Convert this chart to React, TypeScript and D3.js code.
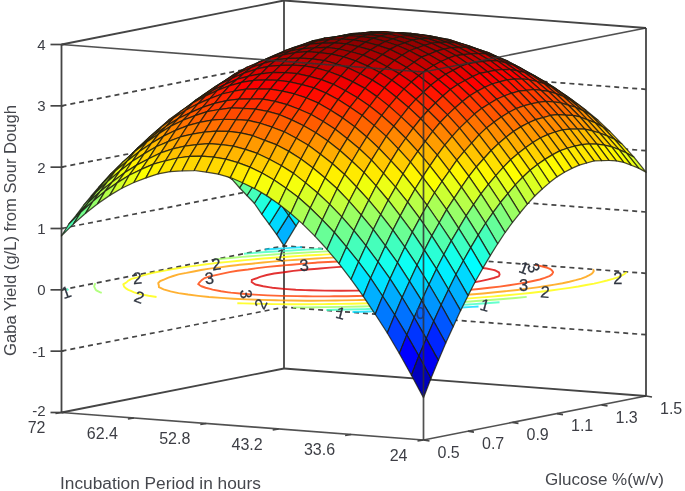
import React from 'react';
import * as d3 from 'd3';

// Rows go 24 h -> 72 h, columns go glucose 0.5 -> 1.5.
const surfaceRows: number[][] = [
  [-1.31,-1.02,-.75,-.49,-.25,-.01,.21,.42,.61,.79,.96,1.12,1.26,1.39,1.51,1.62,1.71,1.79,1.86,1.91,1.95,1.98,1.99,2.00,1.98,1.96,1.93,1.88,1.81,1.74,1.65],
  [-.96,-.67,-.41,-.15,.09,.32,.54,.74,.93,1.11,1.28,1.43,1.57,1.69,1.81,1.91,2.00,2.07,2.13,2.18,2.22,2.24,2.25,2.25,2.24,2.21,2.17,2.12,2.05,1.97,1.88],
  [-.62,-.34,-.08,.17,.41,.64,.85,1.05,1.23,1.41,1.57,1.72,1.85,1.97,2.08,2.18,2.26,2.33,2.39,2.44,2.47,2.49,2.50,2.49,2.47,2.44,2.39,2.33,2.26,2.18,2.08],
  [-.30,-.03,.23,.47,.71,.93,1.14,1.33,1.52,1.68,1.84,1.99,2.12,2.23,2.34,2.43,2.51,2.58,2.63,2.67,2.70,2.71,2.72,2.71,2.68,2.65,2.60,2.53,2.46,2.37,2.27],
  [-.01,.26,.52,.76,.99,1.21,1.41,1.60,1.78,1.94,2.09,2.24,2.36,2.47,2.58,2.67,2.74,2.80,2.85,2.89,2.91,2.92,2.92,2.91,2.88,2.84,2.78,2.72,2.64,2.55,2.44],
  [.27,.54,.78,1.02,1.25,1.46,1.66,1.85,2.02,2.18,2.33,2.47,2.59,2.70,2.79,2.88,2.95,3.00,3.05,3.08,3.10,3.11,3.10,3.09,3.05,3.01,2.95,2.88,2.79,2.70,2.59],
  [.53,.79,1.03,1.27,1.49,1.70,1.89,2.08,2.25,2.40,2.54,2.68,2.80,2.90,2.99,3.07,3.14,3.19,3.23,3.26,3.27,3.28,3.27,3.25,3.21,3.16,3.10,3.02,2.93,2.83,2.72],
  [.77,1.02,1.26,1.49,1.71,1.92,2.10,2.28,2.45,2.60,2.74,2.87,2.98,3.08,3.17,3.25,3.31,3.35,3.39,3.42,3.42,3.42,3.41,3.39,3.34,3.29,3.22,3.14,3.05,2.95,2.83],
  [.99,1.24,1.47,1.70,1.91,2.12,2.30,2.47,2.64,2.78,2.91,3.04,3.15,3.24,3.33,3.40,3.46,3.50,3.54,3.56,3.56,3.55,3.54,3.51,3.46,3.40,3.33,3.24,3.15,3.04,2.92],
  [1.19,1.43,1.66,1.89,2.10,2.29,2.47,2.64,2.80,2.94,3.07,3.19,3.30,3.39,3.47,3.54,3.59,3.63,3.66,3.68,3.67,3.66,3.64,3.61,3.55,3.49,3.42,3.33,3.23,3.12,2.99],
  [1.37,1.61,1.83,2.05,2.26,2.45,2.62,2.79,2.95,3.08,3.21,3.33,3.43,3.51,3.59,3.65,3.71,3.73,3.76,3.77,3.77,3.75,3.73,3.69,3.63,3.57,3.49,3.39,3.29,3.17,3.05],
  [1.53,1.77,1.98,2.20,2.40,2.59,2.76,2.92,3.07,3.20,3.33,3.44,3.54,3.61,3.69,3.75,3.80,3.82,3.84,3.85,3.84,3.82,3.79,3.75,3.69,3.62,3.54,3.44,3.33,3.21,3.08],
  [1.67,1.90,2.12,2.33,2.53,2.71,2.87,3.03,3.18,3.30,3.42,3.53,3.63,3.70,3.77,3.83,3.87,3.89,3.91,3.91,3.89,3.87,3.84,3.80,3.73,3.65,3.57,3.46,3.35,3.23,3.09],
  [1.79,2.02,2.23,2.44,2.63,2.81,2.97,3.13,3.27,3.39,3.50,3.61,3.70,3.77,3.83,3.88,3.92,3.94,3.95,3.95,3.93,3.91,3.87,3.82,3.74,3.67,3.58,3.47,3.35,3.23,3.08],
  [1.89,2.12,2.32,2.53,2.72,2.89,3.04,3.20,3.34,3.45,3.56,3.66,3.75,3.81,3.87,3.92,3.96,3.97,3.98,3.98,3.95,3.92,3.88,3.82,3.74,3.66,3.57,3.45,3.33,3.20,3.06],
  [1.97,2.20,2.40,2.59,2.78,2.96,3.10,3.25,3.38,3.49,3.60,3.70,3.78,3.84,3.90,3.94,3.97,3.98,3.98,3.98,3.94,3.91,3.87,3.81,3.72,3.64,3.54,3.42,3.30,3.16,3.01],
  [2.04,2.26,2.45,2.65,2.83,3.00,3.14,3.28,3.41,3.52,3.62,3.71,3.79,3.85,3.90,3.94,3.97,3.97,3.97,3.96,3.92,3.88,3.84,3.77,3.68,3.60,3.50,3.37,3.24,3.10,2.95],
  [2.08,2.30,2.49,2.68,2.86,3.02,3.16,3.30,3.42,3.52,3.62,3.71,3.79,3.83,3.88,3.92,3.94,3.94,3.94,3.92,3.88,3.84,3.79,3.72,3.62,3.53,3.43,3.29,3.16,3.02,2.86],
  [2.10,2.32,2.50,2.69,2.86,3.02,3.15,3.29,3.41,3.51,3.60,3.69,3.76,3.80,3.85,3.88,3.90,3.89,3.88,3.87,3.82,3.77,3.72,3.65,3.55,3.45,3.34,3.20,3.07,2.92,2.76],
  [2.11,2.32,2.50,2.68,2.85,3.01,3.13,3.27,3.39,3.47,3.57,3.65,3.71,3.75,3.79,3.82,3.84,3.82,3.81,3.79,3.74,3.69,3.63,3.55,3.45,3.35,3.24,3.09,2.95,2.80,2.64],
  [2.09,2.30,2.47,2.65,2.82,2.97,3.09,3.22,3.34,3.42,3.51,3.58,3.65,3.68,3.72,3.74,3.75,3.73,3.72,3.69,3.63,3.58,3.52,3.44,3.33,3.23,3.11,2.96,2.82,2.66,2.49],
  [2.06,2.26,2.43,2.60,2.77,2.92,3.03,3.16,3.27,3.35,3.43,3.50,3.56,3.59,3.62,3.64,3.65,3.63,3.61,3.58,3.51,3.46,3.39,3.31,3.19,3.08,2.96,2.81,2.66,2.50,2.33],
  [2.01,2.20,2.37,2.54,2.70,2.84,2.95,3.07,3.18,3.25,3.33,3.40,3.46,3.48,3.51,3.53,3.53,3.50,3.48,3.44,3.38,3.32,3.24,3.16,3.04,2.92,2.80,2.64,2.49,2.33,2.15],
  [1.93,2.13,2.29,2.45,2.61,2.75,2.85,2.97,3.07,3.14,3.22,3.28,3.34,3.35,3.38,3.39,3.39,3.35,3.33,3.29,3.22,3.15,3.08,2.99,2.86,2.74,2.62,2.45,2.30,2.13,1.95],
  [1.84,2.03,2.18,2.35,2.50,2.64,2.74,2.85,2.95,3.01,3.08,3.14,3.19,3.20,3.23,3.23,3.23,3.19,3.16,3.12,3.04,2.97,2.89,2.80,2.67,2.55,2.41,2.24,2.09,1.92,1.73],
  [1.73,1.92,2.06,2.22,2.37,2.50,2.60,2.71,2.80,2.86,2.93,2.99,3.03,3.04,3.05,3.06,3.05,3.00,2.97,2.92,2.84,2.77,2.68,2.59,2.45,2.33,2.19,2.02,1.85,1.68,1.49],
  [1.60,1.78,1.92,2.08,2.22,2.35,2.44,2.55,2.64,2.69,2.75,2.81,2.85,2.85,2.86,2.86,2.85,2.80,2.76,2.71,2.62,2.55,2.46,2.36,2.22,2.09,1.95,1.77,1.60,1.42,1.23],
  [1.45,1.63,1.76,1.91,2.05,2.18,2.26,2.37,2.45,2.50,2.56,2.61,2.65,2.64,2.65,2.65,2.63,2.58,2.54,2.48,2.39,2.31,2.21,2.11,1.96,1.83,1.69,1.50,1.33,1.15,.95],
  [1.28,1.45,1.59,1.73,1.87,1.99,2.07,2.17,2.25,2.29,2.35,2.39,2.43,2.42,2.42,2.42,2.40,2.33,2.29,2.23,2.13,2.05,1.95,1.84,1.69,1.55,1.41,1.22,1.04,.86,.66],
  [1.09,1.26,1.39,1.53,1.66,1.78,1.85,1.95,2.03,2.06,2.12,2.16,2.18,2.17,2.17,2.16,2.14,2.07,2.02,1.96,1.86,1.77,1.67,1.55,1.40,1.26,1.11,.91,.73,.54,.34],
  [.88,1.05,1.17,1.31,1.43,1.55,1.62,1.71,1.78,1.81,1.86,1.90,1.92,1.91,1.90,1.89,1.86,1.79,1.74,1.67,1.56,1.47,1.36,1.25,1.09,.94,.79,.59,.40,.21,0],
];

const glucoseTicks = ['0.5', '0.7', '0.9', '1.1', '1.3', '1.5'];
const hourTicks = ['72', '62.4', '52.8', '43.2', '33.6', '24'];
const yieldTicks = [-2, -1, 0, 1, 2, 3, 4];
const contourLevels = [0, 0.5, 1, 1.5, 2, 2.5, 3, 3.5];

// [text, glucose, hours, rotation]
const contourLabels: [string, number, number, number][] = [
  ['1', 0.47, 70.5, -20], ['2', 0.79, 70.5, -5], ['2', 0.48, 61.1, 20],
  ['2', 1.118, 69.7, -8], ['3', 0.88, 63.6, -5], ['3', 0.66, 52.2, 85],
  ['2', 0.52, 46.2, -65], ['1', 1.35, 68, 15], ['3', 1.21, 60.8, -5],
  ['1', 0.47, 34.1, 15], ['3', 1.45, 37.4, 70], ['1', 1.44, 38.4, 20],
  ['3', 1.16, 30.2, 0], ['2', 1.07, 24.7, 5], ['2', 1.39, 24.5, 0],
  ['1', 0.78, 24.1, 15],
];
// this one shows through the surface in the picture
const overlayLabels: [string, number, number, number][] = [['0', 0.57, 26.5, 0]];

const glucoseScale = d3.scaleLinear().domain([0.5, 1.5]).range([0, 1]);
const hourScale = d3.scaleLinear().domain([24, 72]).range([0, 1]);
const yieldScale = d3.scaleLinear().domain([-2, 4]).range([0, 368]);
const colGlucose = d3.scaleLinear().domain([0, 30]).range([0.5, 1.5]);
const rowHours = d3.scaleLinear().domain([0, 30]).range([24, 72]);

// oblique projection of the box, front corner is 24 h / 0.5 %
const project = (g: number, h: number, z: number): [number, number] => {
  const s = glucoseScale(g);
  const t = hourScale(h);
  return [423.5 + 222.5 * s - 362 * t, 440 - 44 * s - 27.5 * t - yieldScale(z)];
};

const flat = surfaceRows.flat();
const colorScale = d3.scaleLinear<string>()
  .domain([0, 0.125, 0.375, 0.625, 0.875, 1])
  .range(['#000080', '#0000ff', '#00ffff', '#ffff00', '#ff0000', '#800000']);
const norm = d3.scaleLinear().domain([d3.min(flat)!, d3.max(flat)!]).range([0, 1]);
const jet = (v: number) => colorScale(norm(v));

const cells: { d: string; fill: string }[] = [];
for (let j = 29; j >= 0; j--) {
  for (let i = 29; i >= 0; i--) {
    const corners: [number, number][] = [[i, j], [i + 1, j], [i + 1, j + 1], [i, j + 1]];
    const pts = corners.map(([a, b]) => project(colGlucose(a), rowHours(b), surfaceRows[b][a]));
    cells.push({
      d: 'M' + pts.map(p => p.join(',')).join('L') + 'Z',
      fill: jet(d3.mean(corners, ([a, b]) => surfaceRows[b][a])!),
    });
  }
}

// contour lines sit on the yield = 0 plane, the parts on the grid border are dropped
const contourGen = d3.contours().size([31, 31]).thresholds(contourLevels);
const contourLine = d3.line<number[]>()
  .defined(p => p[0] > 0 && p[0] < 31 && p[1] > 0 && p[1] < 31)
  .x(p => project(colGlucose(p[0] - 0.5), rowHours(p[1] - 0.5), 0)[0])
  .y(p => project(colGlucose(p[0] - 0.5), rowHours(p[1] - 0.5), 0)[1]);
const contourPaths = contourGen(flat).flatMap(c =>
  c.coordinates.flatMap(poly => poly.map(ring => ({ d: contourLine(ring as number[][]) || '', level: c.value })))
);

const seg = (a: [number, number], b: [number, number]) => ({ x1: a[0], y1: a[1], x2: b[0], y2: b[1] });

const ContourText = ({ label, fill }: { label: [string, number, number, number]; fill: string }) => {
  const [txt, g, h, rot] = label;
  const [x, y] = project(g, h, 0);
  return (
    <text x={x} y={y} dy="0.36em" textAnchor="middle" fontSize={16.5} fill={fill} stroke={fill} strokeWidth={0.25}
      transform={`rotate(${rot} ${x} ${y})`}>{txt}</text>
  );
};

export default function App() {
  const font = '"Liberation Sans", Arial, sans-serif';
  const ink = '#3c3e44';
  const [gMin, gMax] = [0.5, 1.5];
  const [hMin, hMax] = [24, 72];

  const backLines = [
    seg(project(gMin, hMax, -2), project(gMax, hMax, -2)),
    seg(project(gMax, hMax, -2), project(gMax, hMin, -2)),
    seg(project(gMin, hMax, 4), project(gMax, hMax, 4)),
    seg(project(gMax, hMax, 4), project(gMax, hMin, 4)),
    seg(project(gMax, hMax, -2), project(gMax, hMax, 4)),
    seg(project(gMax, hMin, -2), project(gMax, hMin, 4)),
    seg(project(gMin, hMax, -2), project(gMin, hMax, 4)),
  ];
  const frontLines = [
    seg(project(gMin, hMax, -2), project(gMin, hMin, -2)),
    seg(project(gMin, hMin, -2), project(gMax, hMin, -2)),
    seg(project(gMin, hMax, 4), project(gMin, hMin, 4)),
    seg(project(gMin, hMin, 4), project(gMax, hMin, 4)),
    seg(project(gMin, hMin, -2), project(gMin, hMin, 4)),
  ];

  return (
    <svg width={685} height={491} style={{ position: 'absolute', left: 0, top: 0, background: '#fff' }} fontFamily={font}>
      <defs>
        <filter id="soft" x="0" y="0" width="100%" height="100%">
          <feGaussianBlur stdDeviation="0.6" />
        </filter>
      </defs>
      <g filter="url(#soft)">
        {/* dashed grid on the two back walls */}
        {yieldTicks.slice(1, -1).map(z => {
          const a = project(gMin, hMax, z);
          const b = project(gMax, hMax, z);
          const c = project(gMax, hMin, z);
          return (
            <polyline key={z} points={[a, b, c].map(p => p.join(',')).join(' ')}
              fill="none" stroke="#444" strokeWidth={1.7} strokeDasharray="5 4" />
          );
        })}
        {backLines.map((l, i) => <line key={i} {...l} stroke="#444" strokeWidth={1.8} />)}

        {contourPaths.map((c, i) => (
          <path key={i} d={c.d} fill="none" stroke={jet(c.level)} strokeWidth={1.9} strokeOpacity={0.8} />
        ))}
        {contourLabels.map((l, i) => <ContourText key={i} label={l} fill="#2f3540" />)}

        {cells.map((c, i) => (
          <path key={i} d={c.d} fill={c.fill} stroke="#1c1c10" strokeWidth={1.25} strokeOpacity={0.8} strokeLinejoin="round" />
        ))}

        {frontLines.map((l, i) => <line key={i} {...l} stroke="#333" strokeWidth={1.7} strokeOpacity={0.85} />)}
        {overlayLabels.map((l, i) => <ContourText key={i} label={l} fill="#1d3a7a" />)}

        {/* yield axis on the left edge */}
        {yieldTicks.map(z => {
          const [x, y] = project(gMin, hMax, z);
          return (
            <g key={z}>
              <line x1={x - 11} x2={x + 2} y1={y} y2={y} stroke="#444" strokeWidth={1.7} />
              <text x={x - 16} y={z === -2 ? y - 2 : y} dy="0.36em" textAnchor="end" fontSize={15} fill={ink}>{z}</text>
            </g>
          );
        })}

        {/* hours along the front left edge */}
        {hourTicks.map(label => {
          const [x, y] = project(gMin, +label, -2);
          return (
            <g key={label}>
              <line x1={x} y1={y} x2={x - 6} y2={y + 1} stroke="#444" strokeWidth={1.7} />
              <text x={x - 16} y={y + 15} dy="0.36em" textAnchor="end" fontSize={16} fill={ink}>{label}</text>
            </g>
          );
        })}

        {/* glucose along the front right edge */}
        {glucoseTicks.map(label => {
          const [x, y] = project(+label, hMin, -2);
          return (
            <g key={label}>
              <line x1={x} y1={y} x2={x + 6} y2={y + 1} stroke="#444" strokeWidth={1.7} />
              <text x={x + 14} y={y + 12} dy="0.36em" fontSize={16} fill={ink}>{label}</text>
            </g>
          );
        })}

        <text transform="translate(16,230.5) rotate(-90)" textAnchor="middle" fontSize={16.6} fill="#45474d">
          Gaba Yield (g/L) from Sour Dough
        </text>
        <text x={60} y={488.5} fontSize={17.3} fill="#45474d">Incubation Period in hours</text>
        <text x={545} y={484.5} fontSize={17} fill="#45474d">Glucose %(w/v)</text>
      </g>
    </svg>
  );
}
